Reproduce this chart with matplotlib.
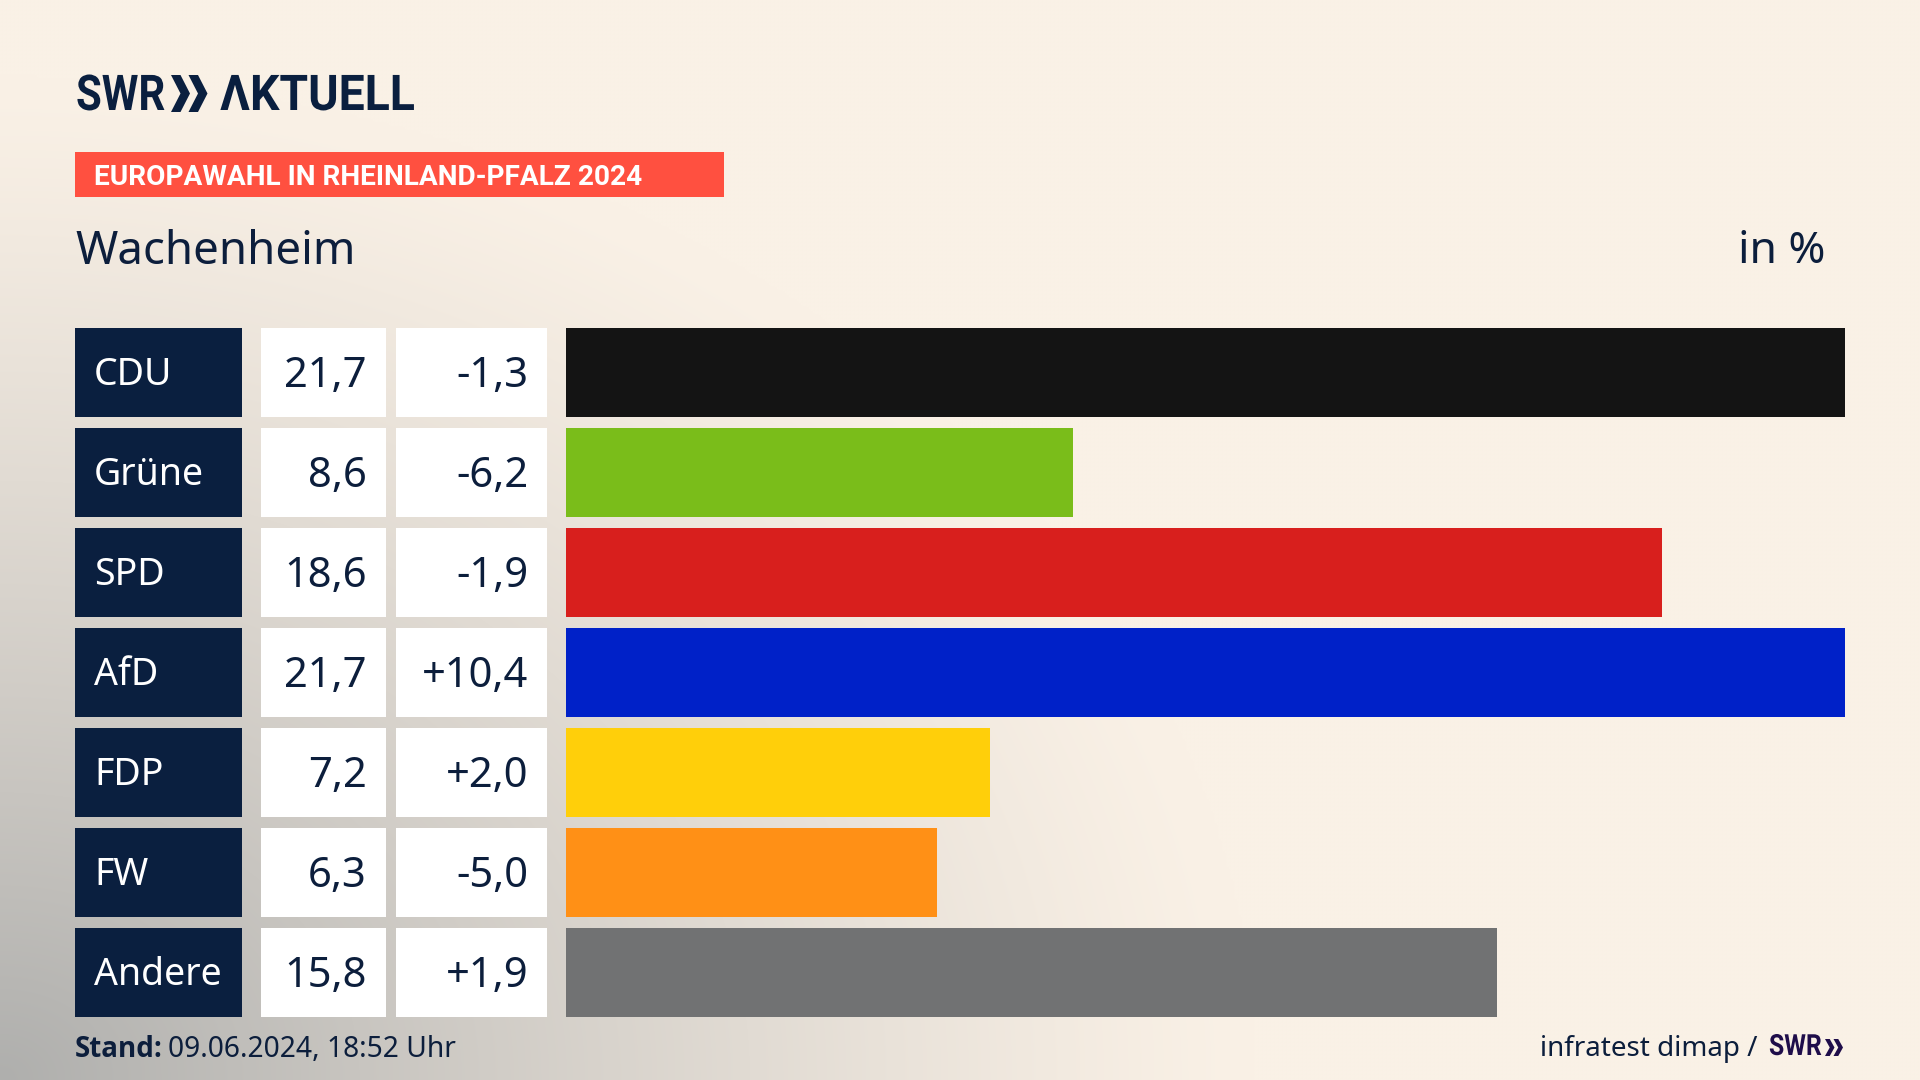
import numpy as np
import matplotlib
matplotlib.use("Agg")
import matplotlib.pyplot as plt
from matplotlib.patches import Polygon, Rectangle
from matplotlib.patheffects import AbstractPathEffect
from matplotlib.transforms import Affine2D

parties = ["CDU", "Grüne", "SPD", "AfD", "FDP", "FW", "Andere"]
values = [21.7, 8.6, 18.6, 21.7, 7.2, 6.3, 15.8]
changes = [-1.3, -6.2, -1.9, 10.4, 2.0, -5.0, 1.9]
bar_colors = ["#141414", "#7ABD1A", "#D81F1D", "#0021C8", "#FFCF0A", "#FF9016", "#717273"]

NAVY = "#0A1F3F"
TEXT = "#0C1E3C"
FONT = "Noto Sans"
BOLD = "Roboto"

W, H = 1920, 1080
ROW_TOP = 328
ROW_STEP = 100
ROW_H = 88.5


class Squeeze(AbstractPathEffect):
    # no condensed bold font is installed, so narrow the glyphs around the text start
    def __init__(self, x0, sx):
        super().__init__()
        self.x0 = x0
        self.sx = sx

    def draw_path(self, renderer, gc, tpath, affine, rgbFace=None):
        squeeze = Affine2D().translate(-self.x0, 0).scale(self.sx, 1).translate(self.x0, 0)
        renderer.draw_path(gc, tpath, affine + squeeze, rgbFace)


def fmt(v, signed=False):
    s = f"{v:+.1f}" if signed else f"{v:.1f}"
    return s.replace(".", ",")


def chevrons(ax, x, top, bottom, width, gap, color):
    # the two arrow heads of the SWR logo
    mid = (top + bottom) / 2
    thick = width * 0.5
    for i in range(2):
        x0 = x + i * gap
        ax.add_patch(Polygon([(x0, top), (x0 + thick, top), (x0 + width, mid),
                              (x0 + thick, bottom), (x0, bottom), (x0 + width - thick, mid)],
                             closed=True, color=color, lw=0))


fig = plt.figure(figsize=(W / 100, H / 100), dpi=100)

# whole figure in pixel coordinates for background, boxes and text
ax = fig.add_axes([0, 0, 1, 1])
ax.set_xlim(0, W)
ax.set_ylim(H, 0)
ax.axis("off")

# cream background, going grey towards the lower left corner
yy, xx = np.mgrid[0:H:270j, 0:W:480j]
d = np.sqrt((xx / 1250) ** 2 + ((H - yy) / 1000) ** 2)
t = np.clip(1 - d, 0, 1) ** 1.2
cream = np.array([250, 241, 230]) / 255
grey = np.array([175, 175, 173]) / 255
bg = cream + (grey - cream) * t[..., None]
ax.imshow(bg, extent=[0, W, H, 0], aspect="auto", zorder=0, interpolation="bicubic")

# logo
ax.text(76, 110, "SWR", family=BOLD, weight="bold", fontsize=35.5, color=NAVY, va="baseline",
        path_effects=[Squeeze(76, 0.85)])
chevrons(ax, 171, 75, 112, 19, 17.5, NAVY)
ax.text(220, 110, "ΛKTUELL", family=BOLD, weight="bold", fontsize=35.5, color=NAVY, va="baseline",
        path_effects=[Squeeze(220, 0.94)])

# red tag
ax.add_patch(Rectangle((75, 152), 649, 45, color="#FF5040", lw=0))
ax.text(94, 185, "EUROPAWAHL IN RHEINLAND-PFALZ 2024", family=BOLD, weight="bold",
        fontsize=20.2, color="white", va="baseline")

ax.text(75, 264, "Wachenheim", family=FONT, fontsize=32.8, color=TEXT, va="baseline")
ax.text(1825, 263, "in %", family=FONT, fontsize=32, color=TEXT, va="baseline", ha="right")

# table boxes and their text
for i, party in enumerate(parties):
    top = ROW_TOP + i * ROW_STEP
    base = top + ROW_H / 2 + 15
    ax.add_patch(Rectangle((75, top), 167, ROW_H, color=NAVY, lw=0))
    ax.add_patch(Rectangle((261, top), 125, ROW_H, color="white", lw=0))
    ax.add_patch(Rectangle((396, top), 151, ROW_H, color="white", lw=0))
    ax.text(94, base - 2, party, family=FONT, fontsize=27, color="white", va="baseline")
    ax.text(367, base, fmt(values[i]), family=FONT, fontsize=30, color=TEXT, va="baseline", ha="right")
    ax.text(528, base, fmt(changes[i], True), family=FONT, fontsize=30, color=TEXT, va="baseline", ha="right")

# footer
ax.text(75, 1057, "Stand:", family="Open Sans", weight="bold", fontsize=20, color=TEXT, va="baseline")
ax.text(168, 1057, "09.06.2024, 18:52 Uhr", family=FONT, fontsize=20.3, color=TEXT, va="baseline")
ax.text(1757, 1056, "infratest dimap /", family=FONT, fontsize=20, color=TEXT, va="baseline", ha="right")
ax.text(1769, 1055, "SWR", family=BOLD, weight="bold", fontsize=21, color="#1F0D4A", va="baseline",
        path_effects=[Squeeze(1769, 0.85)])
chevrons(ax, 1825, 1039, 1056, 9.5, 8.5, "#1F0D4A")

# bars on their own axes, longest value fills the width
bar_ax = fig.add_axes([566 / W, 1 - (ROW_TOP + 6 * ROW_STEP + ROW_H) / H,
                       (1845 - 566) / W, (6 * ROW_STEP + ROW_H) / H])
bar_ax.patch.set_alpha(0)
bar_ax.axis("off")
bar_ax.barh(range(len(parties)), values, height=ROW_H / ROW_STEP, color=bar_colors)
bar_ax.set_xlim(0, max(values))
half = ROW_H / ROW_STEP / 2
bar_ax.set_ylim(len(parties) - 1 + half, -half)

fig.savefig("out.png", dpi=100)
